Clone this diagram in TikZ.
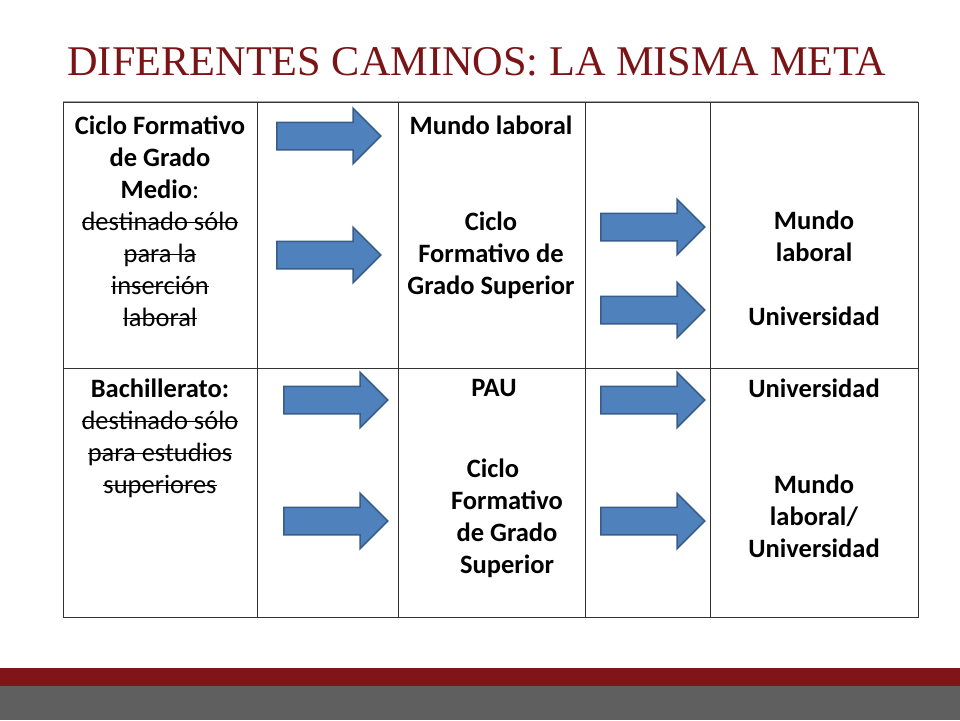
\documentclass[tikz,border=0pt]{standalone}
\usepackage{fontspec}
\setmainfont{Carlito}
\newfontfamily\titlefont{Liberation Serif}
\usetikzlibrary{shapes.arrows}
\definecolor{metared}{HTML}{7B1416}
\definecolor{barred}{HTML}{7F1518}
\definecolor{bargray}{HTML}{5F5F5F}
\definecolor{arrowfill}{HTML}{4F81BD}
\definecolor{arrowline}{HTML}{385D8A}
\newcommand\strike[1]{\setbox0\hbox{#1}\rlap{\raisebox{0.28em}{\rule{\wd0}{1pt}}}\box0}
\tikzset{
  goarrow/.style={single arrow,draw=arrowline,fill=arrowfill,line width=1.5pt,
    minimum height=104pt,minimum width=55pt,inner xsep=0pt,inner ysep=13pt,
    single arrow head extend=14pt,anchor=west},
  celltext/.style={anchor=north,align=center,inner sep=0pt,
    font=\fontsize{26.5}{32}\selectfont}
}
\begin{document}
\begin{tikzpicture}[x=1pt,y=-1pt]
\useasboundingbox (0,0) rectangle (960,720);
\fill[white] (0,0) rectangle (960,720);
% title
\node[text=metared,font=\titlefont\fontsize{42.3}{42}\selectfont] (title) at (477,62) {DIFERENTES CAMINOS: LA MISMA META};
% bottom bars
\fill[barred] (0,668) rectangle (960,686);
\fill[bargray] (0,686) rectangle (960,720);
% table
\draw[gray!70,line width=1.5pt] (63,102) -- (918,102);
\draw[black!80,line width=0.6pt] (63,102) rectangle (918,617);
\draw[black!80,line width=0.6pt] (63,368) -- (918,368);
\foreach \x in {257,398,585,710}
  \draw[black!80,line width=0.6pt] (\x,102) -- (\x,617);
% arrows
\node[goarrow] (a1) at (276,136) {};
\node[goarrow] (a2) at (276,255) {};
\node[goarrow] (a3) at (600,227) {};
\node[goarrow] (a4) at (600,310) {};
\node[goarrow] (a5) at (283,400) {};
\node[goarrow] (a6) at (283,521) {};
\node[goarrow] (a7) at (600,400) {};
\node[goarrow] (a8) at (600,521) {};
% first row
\node[celltext] (medio) at (160,116) {\textbf{Ciclo Formativo}\\\textbf{de Grado}\\\textbf{Medio}:\\
  \strike{destinado sólo}\\\strike{para la}\\\strike{inserción}\\\strike{laboral}};
\node[celltext] (laboral1) at (491,116) {\textbf{Mundo laboral}\\[64pt]\textbf{Ciclo}\\\textbf{Formativo de}\\\textbf{Grado Superior}};
\node[celltext] (destino1) at (814,211) {\textbf{Mundo}\\\textbf{laboral}\\[32pt]\textbf{Universidad}};
% second row
\node[celltext] (bach) at (160,379) {\textbf{Bachillerato:}\\\strike{destinado sólo}\\\strike{para estudios}\\\strike{superiores}};
\node[celltext] (pau) at (494,379) {\textbf{PAU}};
\node[celltext] (superior2) at (507,459) {\hspace*{-28pt}\textbf{Ciclo}\\\textbf{Formativo}\\\textbf{de Grado}\\\textbf{Superior}};
\node[celltext] (uni2) at (814,379) {\textbf{Universidad}};
\node[celltext] (destino2) at (814,475) {\textbf{Mundo}\\\textbf{laboral/}\\\textbf{Universidad}};
\end{tikzpicture}
\end{document}
